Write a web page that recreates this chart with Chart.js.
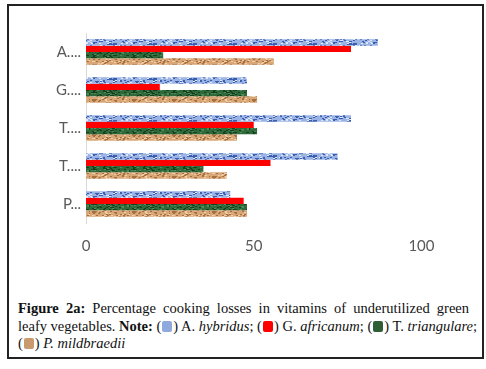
<!DOCTYPE html>
<html>
<head>
<meta charset="utf-8">
<script src="https://cdn.jsdelivr.net/npm/chart.js@4/dist/chart.umd.min.js"></script>
<style>
  html, body { margin: 0; padding: 0; background: #fff; }
  #frame {
    position: absolute; left: 7px; top: 4px; width: 473px; height: 351px;
    border: 2px solid #222;
  }
  #box { position: absolute; left: 1px; top: 1px; width: 472px; height: 260px; }
  #caption {
    position: absolute; left: 9px; top: 294px; width: 451px;
    font-family: "Liberation Serif", "DejaVu Serif", serif;
    font-size: 14.5px; line-height: 17.5px; color: #111;
  }
  #caption .ln { text-align: justify; text-align-last: justify; white-space: nowrap; }
  #caption .ln.last { text-align-last: left; }
  .sw { display: inline-block; width: 10px; height: 11px; border-radius: 2px; vertical-align: -1px; margin: 0 1px; }
</style>
</head>
<body>
<div id="frame">
  <div id="box"><canvas id="myChart"></canvas></div>
  <div id="caption">
    <div class="ln"><b>Figure 2a:</b> Percentage cooking losses in vitamins of underutilized green</div>
    <div class="ln">leafy vegetables. <b>Note:</b> (<span class="sw" style="background:#8fa9dc"></span>) A. <i>hybridus</i>; (<span class="sw" style="background:#ff0000"></span>) G. <i>africanum</i>; (<span class="sw" style="background:#2d5e35"></span>) T. <i>triangulare</i>;</div>
    <div class="ln last">(<span class="sw" style="background:#c99a6e"></span>) <i>P. mildbraedii</i></div>
  </div>
</div>
<script>
// categorias (eje vertical) y series
const categorias = ["A....", "G....", "T....", "T....", "P..."];
const series = ["A. hybridus", "G. africanum", "T. triangulare", "P. mildbraedii"];
const hybridus = [87, 48, 79, 75, 43];
const africanum = [79, 22, 50, 55, 47];
const triangulare = [23, 48, 51, 35, 48];
const mildbraedii = [56, 51, 45, 42, 48];
const ticksX = [0, 50, 100];

// textura tipo "imagen" como en el grafico de Excel
function textura(base, oscuro, claro, semilla) {
  const c = document.createElement("canvas");
  c.width = 40; c.height = 7;
  const g = c.getContext("2d");
  g.fillStyle = base;
  g.fillRect(0, 0, 40, 7);
  for (let i = 0; i < 60; i++) {
    const h = Math.abs(Math.sin((i + 1) * 12.9898 + semilla * 78.233) * 43758.5453) % 1;
    const k = Math.abs(Math.sin((i + 1) * 4.1414 + semilla * 3.17) * 9631.77) % 1;
    g.fillStyle = (i % 3 === 0) ? claro : oscuro;
    g.fillRect(Math.floor(h * 40), Math.floor(k * 7), 2, 1);
  }
  return g.createPattern(c, "repeat");
}

const cnv = document.getElementById("myChart");

const colores = [
  textura("#9ab3e4", "#3a5fae", "#dfe8f8", 1),
  "#ff0000",
  textura("#2f6a3a", "#173e1f", "#4f8a58", 2),
  textura("#d8a677", "#a8703f", "#efcfaa", 3)
];
const valores = [hybridus, africanum, triangulare, mildbraedii];

const datos = {
  labels: categorias,
  datasets: series.map((s, i) => ({
    label: s,
    data: valores[i],
    backgroundColor: colores[i],
    borderWidth: 0,
    barPercentage: 1,
    categoryPercentage: 0.67
  }))
};

new Chart(cnv, {
  type: "bar",
  data: datos,
  options: {
    indexAxis: "y",
    responsive: true,
    maintainAspectRatio: false,
    animation: false,
    layout: { padding: { left: 0, right: 27, top: 26, bottom: 12 } },
    plugins: { legend: { display: false }, tooltip: { enabled: false } },
    scales: {
      x: {
        min: 0, max: 110,
        grid: { display: false, drawTicks: false },
        border: { display: false },
        afterBuildTicks: (scale) => { scale.ticks = ticksX.map(v => ({ value: v })); },
        afterFit: (scale) => { scale.height = 32; },
        ticks: { padding: 14, color: "#595959", font: { family: "Lato", size: 15 } }
      },
      y: {
        grid: { display: false, drawTicks: false },
        border: { display: true, color: "#d9d9d9", width: 1 },
        afterFit: (scale) => { scale.width = 76; },
        ticks: { padding: 5, color: "#595959", font: { family: "Lato", size: 15 } }
      }
    }
  }
});
</script>
</body>
</html>
